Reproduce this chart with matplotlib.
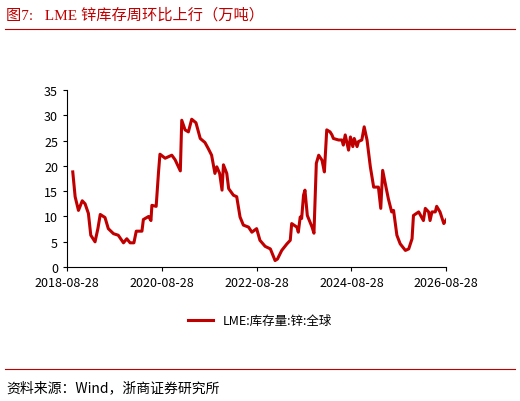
import matplotlib.pyplot as plt
from matplotlib.lines import Line2D

plt.rcParams['font.family'] = ['Noto Sans CJK SC', 'DejaVu Sans']

# years since 2018-08-28, LME zinc stocks (10k tonnes)
years = [0.12, 0.17, 0.24, 0.27, 0.32, 0.38, 0.45, 0.50, 0.59, 0.65, 0.70, 0.80, 0.87, 0.98,
         1.08, 1.19, 1.26, 1.33, 1.41, 1.46, 1.58, 1.61, 1.72, 1.77, 1.79, 1.88, 1.93, 1.96,
         2.07, 2.21, 2.28, 2.39, 2.42, 2.49, 2.56, 2.63, 2.72, 2.81, 2.91, 2.98, 3.05, 3.12,
         3.16, 3.22, 3.27, 3.30, 3.37, 3.41, 3.51, 3.58, 3.65, 3.72, 3.83, 3.90, 4.00, 4.07,
         4.18, 4.29, 4.39, 4.44, 4.53, 4.64, 4.71, 4.74, 4.85, 4.88, 4.92, 4.95, 4.99, 5.02,
         5.07, 5.17, 5.21, 5.26, 5.31, 5.38, 5.43, 5.48, 5.55, 5.59, 5.62, 5.73, 5.80, 5.83,
         5.87, 5.94, 5.98, 6.03, 6.06, 6.12, 6.15, 6.22, 6.27, 6.33, 6.40, 6.47, 6.57, 6.62,
         6.66, 6.73, 6.78, 6.85, 6.89, 6.96, 7.03, 7.14, 7.21, 7.28, 7.31, 7.42, 7.52, 7.56,
         7.63, 7.66, 7.70, 7.77, 7.80, 7.87, 7.95, 8.02]
stock = [18.8, 13.9, 11.2, 11.9, 13.1, 12.5, 10.6, 6.3, 5.0, 7.6, 10.4, 9.8, 7.6, 6.6,
         6.3, 4.8, 5.6, 4.8, 4.8, 7.1, 7.1, 9.4, 10.0, 9.2, 12.2, 12.0, 18.8, 22.3,
         21.5, 22.1, 21.2, 19.0, 29.0, 27.1, 26.7, 29.2, 28.5, 25.4, 24.6, 23.4, 22.1, 18.5,
         19.8, 18.5, 15.2, 20.2, 18.5, 15.5, 14.2, 13.9, 9.9, 8.3, 7.9, 6.9, 7.6, 5.3,
         4.1, 3.6, 1.3, 1.6, 3.3, 4.6, 5.3, 8.6, 7.9, 6.9, 9.9, 9.6, 14.2, 15.2,
         10.2, 7.9, 6.7, 20.5, 22.1, 21.1, 18.8, 27.1, 26.7, 26.1, 25.4, 25.1, 25.1, 24.1,
         26.1, 23.1, 25.7, 23.8, 25.4, 23.8, 24.8, 25.1, 27.7, 25.1, 19.8, 15.8, 15.8, 11.6,
         19.1, 15.8, 13.5, 10.9, 11.2, 6.3, 4.6, 3.3, 3.6, 5.6, 10.2, 10.9, 9.2, 11.6,
         10.9, 9.2, 10.9, 10.9, 12.0, 10.9, 8.6, 9.6]
tick_pos = [0, 2, 4, 6, 8]
tick_labels = ['2018-08-28', '2020-08-28', '2022-08-28', '2024-08-28', '2026-08-28']

red = '#c00000'
fig = plt.figure(figsize=(5.2, 4.02), dpi=100)
ax = fig.add_axes([0.129, 0.333, 0.729, 0.441])
ax.plot(years, stock, color=red, lw=2.2)
ax.set_xlim(0, 8)
ax.set_ylim(0, 35)
ax.set_yticks(range(0, 36, 5))
ax.set_xticks(tick_pos)
ax.set_xticklabels(tick_labels)
for s in ['top', 'right']:
    ax.spines[s].set_visible(False)
ax.tick_params(labelsize=9, direction='out', length=3)

fig.text(0.012, 0.962, '图7:   LME 锌库存周环比上行（万吨）', color=red, fontsize=11,
         va='center', family=['Liberation Serif', 'Noto Sans CJK SC'])
fig.add_artist(Line2D([0.01, 0.99], [0.925, 0.925], color=red, lw=0.8))
fig.add_artist(Line2D([0.01, 0.99], [0.08, 0.08], color=red, lw=0.8))
fig.text(0.012, 0.035, '资料来源：Wind，浙商证券研究所', fontsize=10, va='center')

ax.legend([Line2D([], [], color=red, lw=2.2)], ['LME:库存量:锌:全球'], loc='center',
          bbox_to_anchor=(0.5, 0.2), bbox_transform=fig.transFigure, frameon=False, fontsize=9)

fig.savefig('out.png', dpi=100)
